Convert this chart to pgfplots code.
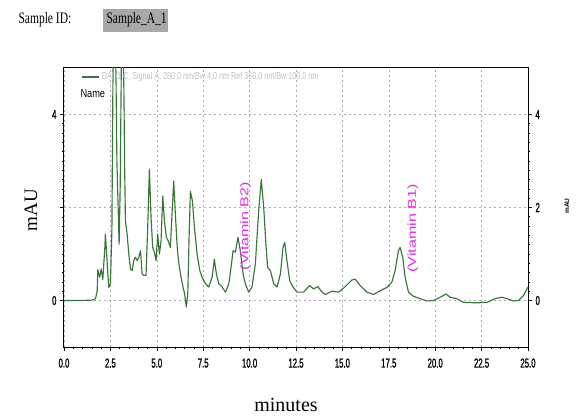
\documentclass[border=0pt]{standalone}
\usepackage{fontspec}
\usepackage{pgfplots}
\pgfplotsset{compat=1.18}
\setmainfont{Liberation Serif}
\setsansfont{Liberation Sans}
\newfontfamily\tickfont[FakeStretch=0.6,FakeBold=1.2]{Liberation Sans}
\newfontfamily\legfont[FakeStretch=0.72]{Liberation Sans}
\newfontfamily\namefont[FakeStretch=0.8]{Liberation Sans}
\newfontfamily\headfont[FakeStretch=0.72]{Liberation Serif}
\definecolor{trace}{RGB}{55,118,55}
\definecolor{vit}{RGB}{228,40,228}
\definecolor{hilite}{RGB}{168,168,168}

\pgfplotsset{
    chrom/.style = {
        width=464pt, height=279pt, scale only axis,
        xmin=0, xmax=25, ymin=-1, ymax=5,
        tick align=outside,
        major tick length=4pt, minor tick length=2pt,
        every tick/.style={black, line width=0.6pt},
        /pgf/number format/assume math mode=true,
        tick label style={font=\tickfont\fontsize{13}{14}\selectfont},
    },
}

\begin{document}
\begin{tikzpicture}[x=1pt,y=1pt]
\useasboundingbox (0,0) rectangle (576,418);

\begin{axis}[chrom,
    at={(64pt,71pt)}, anchor=south west,
    axis line style={black, line width=1pt},
    xtick={0,2.5,...,25}, minor x tick num=4,
    xticklabel={\pgfmathprintnumber[fixed,fixed zerofill,precision=1]{\tick}},
    xticklabel style={yshift=-4pt},
    ytick={0,2,4}, yticklabels={0,,4}, minor y tick num=9,
    xtick pos=bottom, ytick pos=left,
    grid=major,
    major grid style={gray!65, dash pattern=on 2pt off 3pt, line width=0.6pt},
    legend style={at={(rel axis cs:0.035,0.995)}, anchor=north west,
        draw=none, fill=none, inner sep=1pt,
        font=\legfont\fontsize{10}{11}\selectfont, text=gray!50},
    legend image post style={line width=1.4pt},
    ]
    \addplot[trace, line width=1.15pt, line join=round] coordinates {
        (0,0) (1.0,0) (1.55,0.01) (1.70,0.04) (1.79,0.21) (1.82,0.66)
        (1.92,0.50) (2.00,0.68) (2.09,0.45) (2.20,1.14) (2.23,1.43)
        (2.32,0.86) (2.41,0.28) (2.50,0.36) (2.58,1.5) (2.65,5.5)
        (2.78,5.6) (2.85,3.0) (2.97,1.21) (3.03,2.5) (3.10,5.6)
        (3.20,5.5) (3.27,2.8) (3.31,1.71) (3.40,1.43) (3.49,1.00)
        (3.58,0.68) (3.67,0.64) (3.76,0.86) (3.85,0.93) (3.94,0.86)
        (4.03,0.93) (4.12,1.07) (4.21,0.57) (4.30,0.54) (4.42,0.54)
        (4.51,1.57) (4.60,2.82) (4.69,1.78) (4.78,1.14) (4.87,1.04)
        (4.96,0.86) (5.05,1.43) (5.14,1.00) (5.23,1.29) (5.32,2.25)
        (5.41,1.71) (5.52,1.36) (5.61,1.29) (5.73,1.14) (5.82,1.86)
        (5.91,2.57) (6.00,1.86) (6.10,1.14) (6.19,0.79) (6.31,0.50)
        (6.41,0.29) (6.50,0.14) (6.59,-0.14) (6.67,0.14) (6.74,1.36)
        (6.81,2.35) (6.92,2.14) (7.03,1.57) (7.17,1.00) (7.32,0.64)
        (7.44,0.50) (7.62,0.36) (7.80,0.29) (7.98,0.50) (8.10,0.89)
        (8.21,0.57) (8.34,0.36) (8.52,0.29) (8.70,0.18) (8.88,0.36)
        (9.00,0.71) (9.11,1.07) (9.24,1.04) (9.37,1.36) (9.50,1.07)
        (9.65,0.57) (9.77,0.36) (9.95,0.18) (10.13,0.29) (10.31,0.79)
        (10.49,1.93) (10.63,2.60) (10.76,2.00) (10.88,1.21) (10.97,0.71)
        (11.12,0.64) (11.30,0.36) (11.48,0.29) (11.66,0.57) (11.80,1.14)
        (11.89,1.25) (12.01,0.86) (12.16,0.43) (12.34,0.29) (12.55,0.18)
        (12.91,0.18) (13.23,0.32) (13.45,0.25) (13.68,0.30) (13.90,0.18)
        (14.08,0.13) (14.44,0.20) (14.80,0.18) (15.16,0.30) (15.51,0.44)
        (15.69,0.46) (15.96,0.32) (16.32,0.18) (16.68,0.13) (17.04,0.21)
        (17.39,0.28) (17.66,0.39) (17.84,0.64) (18.02,1.07) (18.11,1.14)
        (18.25,0.93) (18.38,0.50) (18.56,0.18) (18.83,0.09) (19.19,0.04)
        (19.55,-0.01) (19.91,0.00) (20.27,0.07) (20.59,0.14) (20.80,0.07)
        (21.16,0.04) (21.52,-0.04) (22.24,-0.05) (22.78,-0.04) (23.23,0.04)
        (23.59,0.07) (23.86,0.04) (24.22,-0.01) (24.49,0.00) (24.76,0.11)
        (25.00,0.29)
    };
    \addlegendentry{DAD1 C, Signal A, 280,0 nm/Bw:4,0 nm Ref 360,0 nm/Bw:100,0 nm}

    \node[rotate=90, text=vit, font=\sffamily\fontsize{11.5}{12}\selectfont]
        at (axis cs:9.78,1.6) {\scalebox{1.4}[1]{(Vitamin B2)}};
    \node[rotate=90, text=vit, font=\sffamily\fontsize{11.5}{12}\selectfont]
        at (axis cs:18.8,1.55) {\scalebox{1.4}[1]{(Vitamin B1)}};
    \node[anchor=north west, font=\namefont\fontsize{11.5}{12}\selectfont]
        at (rel axis cs:0.028,0.935) {Name};
\end{axis}

% right-hand axis, same scale
\begin{axis}[chrom,
    at={(64pt,71pt)}, anchor=south west,
    axis x line=none, axis y line*=right,
    y axis line style={black, line width=1pt, -},
    ytick={0,2,4}, minor y tick num=9,
    ]
\end{axis}

\node[rotate=90, font=\fontsize{19}{20}\selectfont] at (31,208) {mAU};
\node[font=\fontsize{20}{21}\selectfont] at (286,13) {minutes};
\node[rotate=90, font=\sffamily\bfseries\fontsize{6.5}{7}\selectfont] at (567,212) {mAU};

\node[anchor=west, font=\headfont\fontsize{16}{17}\selectfont] at (15,398) {Sample ID:};
\fill[hilite] (103,386) rectangle (168,409);
\node[anchor=west, font=\headfont\fontsize{16}{17}\selectfont] at (103,398) {Sample\_A\_1};
\end{tikzpicture}
\end{document}
